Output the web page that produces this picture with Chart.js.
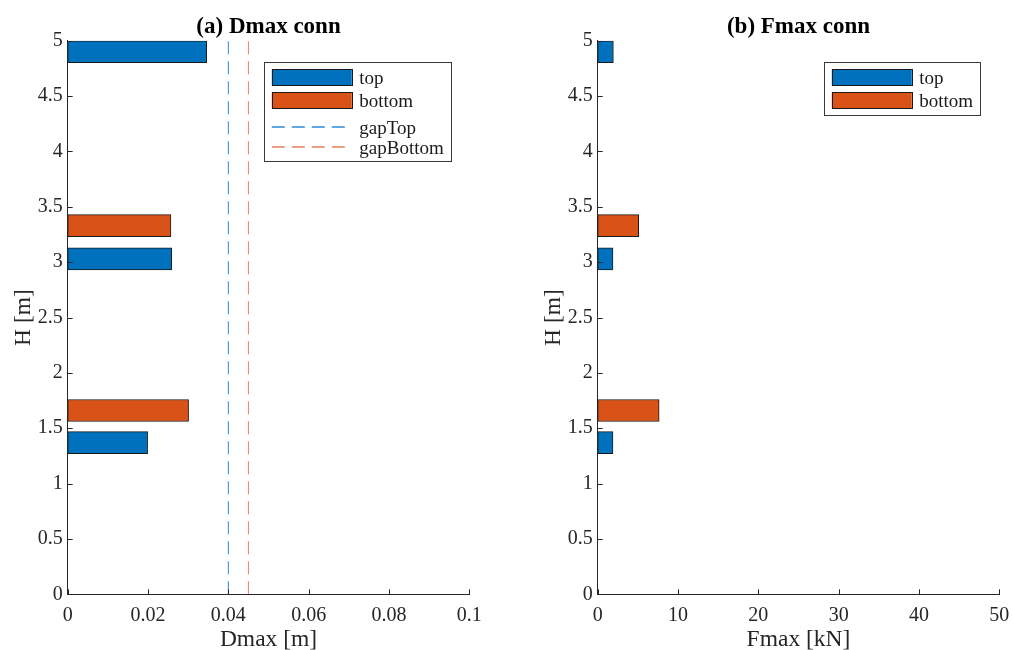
<!DOCTYPE html>
<html>
<head>
<meta charset="utf-8">
<script src="https://cdn.jsdelivr.net/npm/chart.js@4.4.0/dist/chart.umd.min.js"></script>
<style>
  body { margin: 0; background: #fff; width: 1013px; height: 650px; overflow: hidden; position: relative; }
  canvas { position: absolute; top: 0; }
</style>
</head>
<body>
<canvas id="chartA" width="506" height="650" style="left:0px"></canvas>
<canvas id="chartB" width="496" height="650" style="left:530px"></canvas>
<script>
// heights of the connections [m]
var hTop = [1.37, 3.03, 4.9];
var hBottom = [1.66, 3.33];

// (a) max displacement [m]
var dmaxTop = [0.0199, 0.0259, 0.0346];
var dmaxBottom = [0.0301, 0.0257];
var gapTop = 0.04;
var gapBottom = 0.045;

// (b) max force [kN]
var fmaxTop = [1.9, 1.9, 1.95];
var fmaxBottom = [7.65, 5.1];

// ticks
var hTicks = [0, 0.5, 1, 1.5, 2, 2.5, 3, 3.5, 4, 4.5, 5];
var dTicks = [0, 0.02, 0.04, 0.06, 0.08, 0.1];
var fTicks = [0, 10, 20, 30, 40, 50];

var BLUE = "#0072BD";
var ORANGE = "#D95319";
var GAP_BLUE = "#2a8ad6";
var GAP_ORANGE = "#e8805a";
var AXIS = "#262626";

Chart.defaults.font.family = '"Liberation Serif", "Times New Roman", serif';

function pts(xs, ys) {
  return ys.map(function(h, i) { return { x: xs[i], y: h }; });
}

// matlab style: inward ticks, title over the axes, boxed legend inside
var matlabLook = {
  id: "matlabLook",
  afterDatasetsDraw: function(chart, args, opts) {
    var ctx = chart.ctx;
    var a = chart.chartArea;
    var x = chart.scales.x;
    var y = chart.scales.y;
    ctx.save();

    ctx.strokeStyle = AXIS;
    ctx.lineWidth = 1;
    ctx.beginPath();
    x.ticks.forEach(function(t) {
      var px = Math.round(x.getPixelForValue(t.value)) + 0.5;
      ctx.moveTo(px, a.bottom);
      ctx.lineTo(px, a.bottom - 5);
    });
    y.ticks.forEach(function(t) {
      var py = Math.round(y.getPixelForValue(t.value)) + 0.5;
      ctx.moveTo(a.left, py);
      ctx.lineTo(a.left + 5, py);
    });
    ctx.stroke();

    ctx.fillStyle = "#000";
    ctx.font = 'bold 23px "Liberation Serif"';
    ctx.textAlign = "center";
    ctx.textBaseline = "alphabetic";
    ctx.fillText(opts.title, (a.left + a.right) / 2, 32.5);

    // legend
    var L = opts.legend;
    var bx = a.left + L.dx, by = a.top + L.dy;
    ctx.fillStyle = "#fff";
    ctx.fillRect(bx, by, L.w, L.h);
    ctx.strokeStyle = "#3a3a3a";
    ctx.strokeRect(Math.round(bx) + 0.5, Math.round(by) + 0.5, Math.round(L.w), Math.round(L.h));
    ctx.font = '19px "Liberation Serif"';
    ctx.textAlign = "left";
    ctx.textBaseline = "middle";
    L.items.forEach(function(it, i) {
      var cy = by + L.rows[i];
      if (it.dash) {
        ctx.save();
        ctx.strokeStyle = it.color;
        ctx.lineWidth = 1.5;
        ctx.setLineDash([13, 7]);
        ctx.beginPath();
        ctx.moveTo(bx + 7.5, Math.round(cy));
        ctx.lineTo(bx + 87, Math.round(cy));
        ctx.stroke();
        ctx.restore();
      } else {
        ctx.fillStyle = it.color;
        ctx.fillRect(bx + 7.5, cy - 8.3, 80, 16.7);
        ctx.strokeStyle = "#1a1a1a";
        ctx.strokeRect(Math.round(bx + 7.5) + 0.5, Math.round(cy - 8.3) + 0.5, 80, 16);
      }
      ctx.fillStyle = "#1a1a1a";
      ctx.fillText(it.label, bx + 95, cy + 2);
    });
    ctx.restore();
  }
};

function makeOptions(xMax, xTickList, xLabel, padRight, title, legend) {
  return {
    responsive: false,
    animation: false,
    indexAxis: "y",
    layout: { padding: { left: 0, right: padRight, top: 40.7, bottom: 0 } },
    plugins: {
      legend: { display: false },
      tooltip: { enabled: false },
      matlabLook: { title: title, legend: legend }
    },
    scales: {
      x: {
        type: "linear",
        min: 0,
        max: xMax,
        afterBuildTicks: function(s) { s.ticks = xTickList.map(function(v) { return { value: v }; }); },
        afterFit: function(s) { s.height = 55.7; },
        ticks: { callback: function(v) { return String(v); }, color: AXIS, padding: 9, maxRotation: 0, font: { size: 20 } },
        grid: { display: false, drawTicks: false },
        border: { display: true, color: AXIS, width: 1 },
        title: { display: true, text: xLabel, color: AXIS, font: { size: 23.5, lineHeight: 1 }, padding: { top: 0, bottom: -2 } }
      },
      y: {
        type: "linear",
        min: 0,
        max: 5,
        offset: false,
        afterBuildTicks: function(s) { s.ticks = hTicks.map(function(v) { return { value: v }; }); },
        afterFit: function(s) { s.width = 67.7; },
        ticks: { callback: function(v) { return String(v); }, color: AXIS, padding: 5, font: { size: 20 } },
        grid: { display: false, drawTicks: false, offset: false },
        border: { display: true, color: AXIS, width: 1 },
        title: { display: true, text: "H [m]", color: AXIS, font: { size: 23.5, lineHeight: 1 }, padding: { top: 12.5, bottom: 0 } }
      }
    }
  };
}

function barSet(label, color, data) {
  return {
    type: "bar",
    label: label,
    data: data,
    backgroundColor: color,
    borderColor: "#1a1a1a",
    borderWidth: 1,
    borderSkipped: false,
    grouped: false,
    barThickness: 22
  };
}

function gapSet(label, color, value) {
  return {
    type: "line",
    label: label,
    data: [{ x: value, y: 0 }, { x: value, y: 5 }],
    borderColor: color,
    borderWidth: 1,
    borderDash: [13, 7],
    pointRadius: 0,
    fill: false
  };
}

new Chart(document.getElementById("chartA").getContext("2d"), {
  type: "bar",
  data: {
    datasets: [
      barSet("top", BLUE, pts(dmaxTop, hTop)),
      barSet("bottom", ORANGE, pts(dmaxBottom, hBottom)),
      gapSet("gapTop", GAP_BLUE, gapTop),
      gapSet("gapBottom", GAP_ORANGE, gapBottom)
    ]
  },
  options: makeOptions(0.1, dTicks, "Dmax [m]", 36.7, "(a) Dmax conn", {
    dx: 196.6, dy: 21.6, w: 187.4, h: 99.4, rows: [15.2, 38.2, 64.4, 84.6],
    items: [
      { label: "top", color: BLUE },
      { label: "bottom", color: ORANGE },
      { label: "gapTop", color: GAP_BLUE, dash: true },
      { label: "gapBottom", color: GAP_ORANGE, dash: true }
    ]
  }),
  plugins: [matlabLook]
});

new Chart(document.getElementById("chartB").getContext("2d"), {
  type: "bar",
  data: {
    datasets: [
      barSet("top", BLUE, pts(fmaxTop, hTop)),
      barSet("bottom", ORANGE, pts(fmaxBottom, hBottom))
    ]
  },
  options: makeOptions(50, fTicks, "Fmax [kN]", 26.7, "(b) Fmax conn", {
    dx: 226.6, dy: 21.6, w: 155.7, h: 53.4, rows: [15.2, 38.2],
    items: [
      { label: "top", color: BLUE },
      { label: "bottom", color: ORANGE }
    ]
  }),
  plugins: [matlabLook]
});
</script>
</body>
</html>
